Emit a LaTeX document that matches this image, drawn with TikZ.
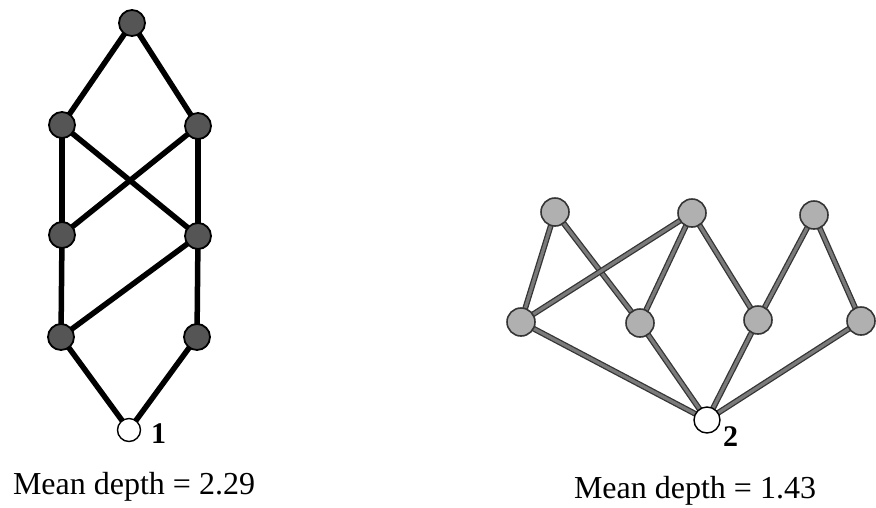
\documentclass[tikz,border=0pt]{standalone}
\usepackage{fontspec}
\setmainfont{Liberation Serif}
\usetikzlibrary{backgrounds}
\definecolor{darknode}{HTML}{555555}
\definecolor{lightnode}{HTML}{B0B0B0}
\definecolor{edgeout}{HTML}{353535}
\definecolor{edgein}{HTML}{7A7A7A}
\begin{document}
\begin{tikzpicture}[x=1pt,y=-1pt,
  dnode/.style={circle,draw=black,line width=1.8pt,fill=darknode,minimum size=26pt,inner sep=0pt},
  lnode/.style={circle,draw=edgeout,line width=1.6pt,fill=lightnode,minimum size=28pt,inner sep=0pt},
  rootnode/.style={circle,draw=black,line width=1.4pt,fill=white,minimum size=#1,inner sep=0pt},
  dedge/.style={line width=5.5pt,black},
  ledge/.style={draw=edgeout,line width=1.3pt,double=edgein,double distance=3.2pt},
  caption/.style={font=\fontsize{32}{36}\selectfont,anchor=base,inner sep=0pt},
  rlabel/.style={font=\fontsize{30}{34}\selectfont\bfseries,anchor=base west,inner sep=0pt}]
\useasboundingbox (0,0) rectangle (876,507);
% left graph
\node[dnode] (t) at (132,23) {};
\node[dnode] (l2) at (62,125) {};
\node[dnode] (r2) at (198,126) {};
\node[dnode] (l3) at (62,235) {};
\node[dnode] (r3) at (198,236) {};
\node[dnode] (l4) at (61,337) {};
\node[dnode] (r4) at (197,337) {};
\node[rootnode=23pt] (o1) at (129,430) {};
\node[rlabel] (lab1) at (151,443) {1};
\begin{scope}[on background layer]
\draw[dedge] (t.center) -- (l2.center);
\draw[dedge] (t.center) -- (r2.center);
\draw[dedge] (l2.center) -- (l3.center);
\draw[dedge] (l2.center) -- (r3.center);
\draw[dedge] (r2.center) -- (l3.center);
\draw[dedge] (r2.center) -- (r3.center);
\draw[dedge] (l3.center) -- (l4.center);
\draw[dedge] (r3.center) -- (l4.center);
\draw[dedge] (r3.center) -- (r4.center);
\draw[dedge] (l4.center) -- (o1.center);
\draw[dedge] (r4.center) -- (o1.center);
\end{scope}
\node[caption] (cap1) at (134,494) {Mean depth = 2.29};
% right graph
\node[lnode] (a) at (555,212) {};
\node[lnode] (b) at (692,213) {};
\node[lnode] (c) at (814,215) {};
\node[lnode] (m1) at (521,322) {};
\node[lnode] (m2) at (640,323) {};
\node[lnode] (m3) at (758,320) {};
\node[lnode] (m4) at (861,321) {};
\node[rootnode=26pt] (o2) at (707,420) {};
\node[rlabel] (lab2) at (723,446) {2};
\begin{scope}[on background layer]
\draw[ledge] (a.center) -- (m1.center);
\draw[ledge] (a.center) -- (m2.center);
\draw[ledge] (b.center) -- (m1.center);
\draw[ledge] (b.center) -- (m2.center);
\draw[ledge] (b.center) -- (m3.center);
\draw[ledge] (c.center) -- (m3.center);
\draw[ledge] (c.center) -- (m4.center);
\draw[ledge] (m1.center) -- (o2.center);
\draw[ledge] (m2.center) -- (o2.center);
\draw[ledge] (m3.center) -- (o2.center);
\draw[ledge] (m4.center) -- (o2.center);
\end{scope}
\node[caption] (cap2) at (695,498) {Mean depth = 1.43};
\end{tikzpicture}
\end{document}
